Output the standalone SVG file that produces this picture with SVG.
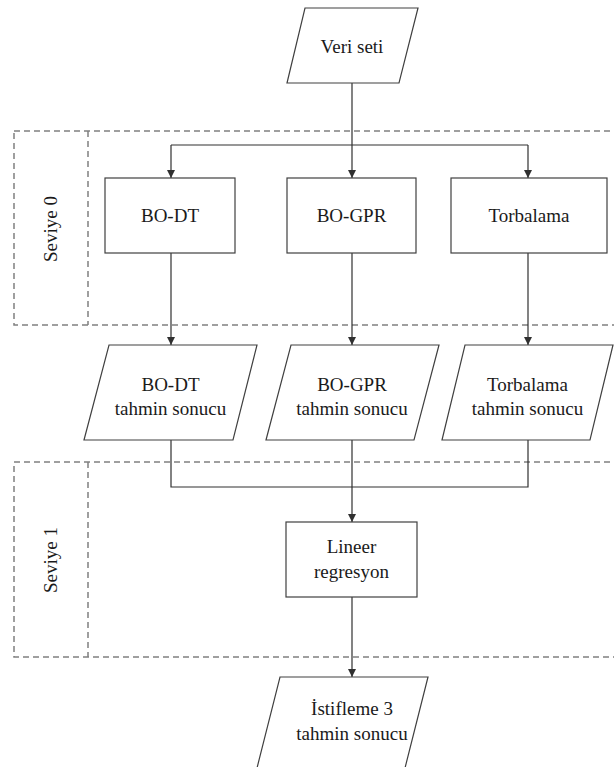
<svg xmlns="http://www.w3.org/2000/svg" width="614" height="767" viewBox="0 0 614 767">
  <style>
    .shape { fill: #ffffff; stroke: #404040; stroke-width: 1.2; }
    .lane { fill: none; stroke: #808080; stroke-width: 1.5; stroke-dasharray: 6 4; }
    .edge { fill: none; stroke: #303030; stroke-width: 1.2; }
    .label { font-family: "Liberation Serif", "Times New Roman", serif; font-size: 19px; fill: #1a1a1a; text-anchor: middle; }
  </style>
  <defs>
    <marker id="arrow" viewBox="0 0 10 10" refX="10" refY="5" markerWidth="8" markerHeight="8" markerUnits="userSpaceOnUse" orient="auto">
      <path d="M0,0 L10,5 L0,10 z" fill="#303030"/>
    </marker>
  </defs>

  <rect width="614" height="767" fill="#ffffff"/>

  <!-- level lanes -->
  <g id="lane-seviye-0">
    <rect class="lane" x="14" y="131" width="620" height="194"/>
    <line class="lane" x1="88" y1="131" x2="88" y2="325"/>
    <text class="label" transform="translate(57,229) rotate(-90)">Seviye 0</text>
  </g>
  <g id="lane-seviye-1">
    <rect class="lane" x="14" y="462" width="620" height="195"/>
    <line class="lane" x1="88" y1="462" x2="88" y2="657"/>
    <text class="label" transform="translate(57,560) rotate(-90)">Seviye 1</text>
  </g>

  <!-- connectors -->
  <g id="connectors">
    <path class="edge" d="M352,83 V145"/>
    <path class="edge" d="M171,145 H528"/>
    <path class="edge" d="M171,145 V178" marker-end="url(#arrow)"/>
    <path class="edge" d="M352,145 V178" marker-end="url(#arrow)"/>
    <path class="edge" d="M528,145 V178" marker-end="url(#arrow)"/>
    <path class="edge" d="M171,253 V345" marker-end="url(#arrow)"/>
    <path class="edge" d="M352,253 V345" marker-end="url(#arrow)"/>
    <path class="edge" d="M528,253 V345" marker-end="url(#arrow)"/>
    <path class="edge" d="M171,440 V487 H528 V440"/>
    <path class="edge" d="M352,440 V487"/>
    <path class="edge" d="M352,487 V522" stroke-width="2" marker-end="url(#arrow)"/>
    <path class="edge" d="M352,597 V677" marker-end="url(#arrow)"/>
  </g>

  <!-- nodes -->
  <g id="veri-seti">
    <polygon class="shape" points="305,8 418,8 399,83 287,83"/>
    <text class="label" x="352" y="53">Veri seti</text>
  </g>

  <g id="bo-dt">
    <rect class="shape" x="105" y="178" width="130" height="75"/>
    <text class="label" x="170" y="222">BO-DT</text>
  </g>
  <g id="bo-gpr">
    <rect class="shape" x="287" y="178" width="129" height="75"/>
    <text class="label" x="351.5" y="222">BO-GPR</text>
  </g>
  <g id="torbalama">
    <rect class="shape" x="451" y="178" width="156" height="75"/>
    <text class="label" x="529" y="222">Torbalama</text>
  </g>

  <g id="bo-dt-sonuc">
    <polygon class="shape" points="109,345 257,345 233,440 84,440"/>
    <text class="label" x="170.5" y="391">BO-DT</text>
    <text class="label" x="170.5" y="415">tahmin sonucu</text>
  </g>
  <g id="bo-gpr-sonuc">
    <polygon class="shape" points="291,345 439,345 414,440 266,440"/>
    <text class="label" x="352" y="391">BO-GPR</text>
    <text class="label" x="352" y="415">tahmin sonucu</text>
  </g>
  <g id="torbalama-sonuc">
    <polygon class="shape" points="465,345 613,345 590,440 442,440"/>
    <text class="label" x="527.5" y="391">Torbalama</text>
    <text class="label" x="527.5" y="415">tahmin sonucu</text>
  </g>

  <g id="lineer-regresyon">
    <rect class="shape" x="286" y="522" width="131" height="75"/>
    <text class="label" x="351.5" y="553">Lineer</text>
    <text class="label" x="351.5" y="578">regresyon</text>
  </g>

  <g id="istifleme-sonuc">
    <polygon class="shape" points="280,677 428,677 404,772 256,772"/>
    <text class="label" x="352" y="715">İstifleme 3</text>
    <text class="label" x="352" y="740">tahmin sonucu</text>
  </g>
</svg>
